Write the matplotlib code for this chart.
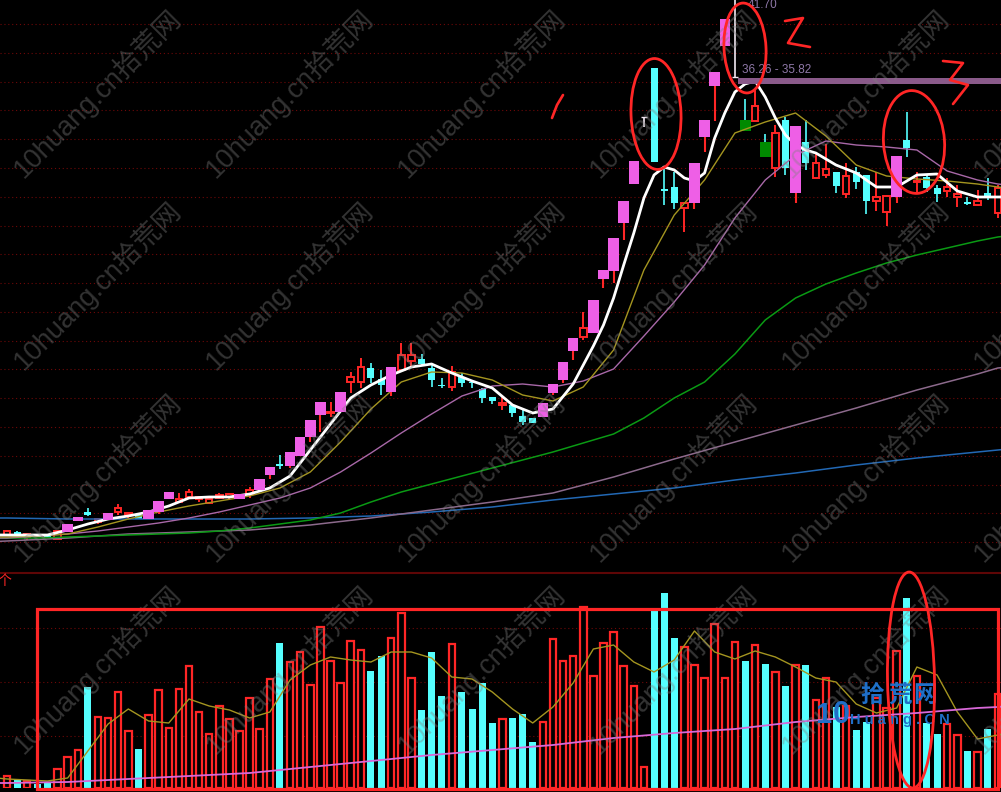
import numpy as np
import matplotlib
matplotlib.use('Agg')
import matplotlib.pyplot as plt
from matplotlib.patches import Ellipse, Rectangle

plt.rcParams['font.family'] = ['Liberation Sans', 'Noto Sans CJK SC']

# m = magenta up, r = hollow red up, c = cyan down, g = green down, w = white top bar
kinds = ['r','c','r','c','c','r','m','m','c','r',
         'm','r','r','c','m','m','m','r','r','r',
         'r','r','r','m','r','m','m','c','m','m',
         'm','m','r','m','r','r','c','c','m','r',
         'r','c','c','c','r','c','c','c','c','r',
         'c','c','c','m','m','m','m','r','m','m',
         'm','m','m','w','c','c','c','r','m','m',
         'm','m','w','g','r','g','r','c','m','c',
         'r','r','c','r','c','c','r','r','m','c',
         'r','c','c','r','r','c','r','c','r']

body_hi = [4.53,4.46,4.32,4.25,4.18,4.53,5.02,5.51,5.86,5.37,
           5.79,6.14,5.79,5.65,6.00,6.63,7.26,6.77,7.26,6.91,
           6.77,7.05,7.12,7.12,7.40,8.17,9.01,9.22,10.06,11.11,
           12.30,13.56,12.86,14.26,15.31,16.01,15.94,15.17,16.01,16.85,
           16.85,16.57,15.94,14.75,15.66,15.31,14.96,14.47,13.91,13.49,
           13.35,12.58,12.44,13.49,14.82,16.36,18.04,18.74,20.70,22.80,
           25.04,27.63,30.43,33.51,36.94,28.47,28.61,27.49,30.29,33.30,
           36.66,40.37,36.31,33.30,34.28,31.76,32.39,33.30,32.88,31.76,
           30.29,29.87,29.66,29.38,29.66,29.45,27.91,27.98,30.78,31.90,
           29.03,29.31,28.54,28.61,28.12,27.56,27.63,28.19,28.54]
body_lo = [4.25,4.32,4.11,4.11,4.04,3.97,4.46,5.23,5.65,5.16,
           5.30,5.86,5.65,5.37,5.37,5.86,6.77,6.56,6.91,6.77,
           6.49,6.84,6.91,6.77,7.12,7.40,8.45,9.08,9.08,9.78,
           11.11,12.65,12.79,12.86,14.96,14.96,15.24,14.75,14.26,15.80,
           16.43,16.22,15.10,14.68,14.61,14.89,14.89,13.84,13.63,13.35,
           12.79,12.16,12.09,12.51,14.19,15.10,17.13,18.11,18.39,22.17,
           22.73,26.09,28.82,33.44,30.36,28.33,27.49,27.14,27.49,32.11,
           35.68,38.48,36.24,32.53,33.23,30.71,29.94,29.94,28.19,30.29,
           29.24,29.45,28.68,28.12,28.96,27.63,27.63,26.86,27.91,31.34,
           28.96,28.54,28.12,28.33,27.91,27.42,27.35,27.84,26.79]
highs = [4.60,4.53,4.39,4.25,4.18,4.53,5.02,5.51,6.14,5.44,
         5.79,6.42,5.86,5.65,6.00,6.63,7.26,7.19,7.47,6.91,
         6.91,7.19,7.19,7.12,7.61,8.17,9.01,9.85,10.06,11.11,
         12.30,13.56,13.56,14.26,15.66,16.64,16.29,15.80,16.01,17.69,
         17.69,16.92,16.29,15.24,16.08,15.59,15.10,14.54,13.91,13.98,
         13.42,13.00,12.44,13.49,14.82,16.36,18.04,19.86,20.70,22.80,
         25.04,27.63,30.43,33.51,36.94,29.94,29.66,27.49,30.29,33.30,
         36.66,40.37,41.70,34.77,35.40,32.32,32.95,33.51,32.88,33.30,
         30.99,31.62,29.66,30.29,30.01,29.45,29.66,28.05,30.78,33.86,
         29.66,29.45,28.75,29.24,28.75,27.91,28.40,29.24,28.75]
lows = [4.18,4.25,3.90,4.11,4.04,3.97,4.46,5.23,5.58,5.02,
        5.30,5.65,5.44,5.37,5.37,5.72,6.77,6.49,6.84,6.56,
        6.42,6.77,6.77,6.77,6.84,7.40,8.17,8.87,8.94,9.78,
        10.76,11.46,12.51,12.86,14.19,14.54,14.89,14.05,13.98,15.80,
        15.94,16.08,14.61,14.54,14.33,14.61,14.54,13.49,13.42,13.00,
        12.51,11.95,12.09,12.51,14.05,14.89,16.50,17.90,18.39,21.54,
        21.89,24.90,28.82,32.81,30.36,27.35,27.07,25.46,27.07,31.06,
        33.23,38.48,36.24,32.53,33.23,30.71,29.31,29.45,27.49,29.80,
        29.24,29.24,28.19,27.84,28.47,26.72,26.93,25.88,27.49,30.71,
        28.19,28.26,27.56,27.91,27.21,27.35,27.28,27.70,26.44]

volumes = [12,9,7,4,5,19,31,38,101,71,
           70,96,57,39,73,98,60,99,122,76,
           54,82,69,57,90,59,109,145,126,136,
           103,161,127,105,147,138,117,132,150,175,
           110,78,136,92,144,96,79,105,65,69,
           70,74,46,66,149,127,132,181,112,145,
           156,122,102,21,179,195,150,141,123,110,
           164,110,146,127,143,124,116,102,123,123,
           88,110,81,82,58,66,90,80,137,190,
           112,65,54,64,53,37,36,59,94]

# moving averages, read every few days, first and last reach past the frame
ma5_days = [-1] + list(range(0, 57, 2)) + list(range(57, 81)) + list(range(82, 99, 2)) + [99]
ma5 = [4.25,4.25,4.25,4.25,4.60,5.02,5.37,5.58,5.86,6.28,6.84,
       6.91,6.91,7.12,7.54,8.38,10.20,12.02,13.84,14.75,15.45,
       16.01,16.22,15.59,15.03,14.54,13.35,12.79,13.07,14.82,
       16.15,17.48,18.95,20.84,23.15,25.39,27.84,29.45,30.01,29.80,
       29.24,29.03,29.59,32.04,33.79,35.26,35.82,36.03,34.91,33.44,
       32.25,31.55,31.20,30.99,
       30.15,29.59,28.61,28.61,29.45,29.52,28.33,27.91,27.91,27.91]
mid_days = [-1] + list(range(0, 97, 3)) + [98, 99]
ma10 = [4.11,4.11,4.18,4.32,4.81,5.37,5.86,6.28,6.63,6.98,7.54,
        8.66,10.76,13.07,14.96,15.66,15.59,15.10,14.05,13.63,14.61,
        17.20,22.80,26.65,29.10,32.39,33.16,33.79,32.18,30.15,29.38,
        29.17,29.03,28.82,28.61,28.54]
ma20 = [4.04,4.04,4.18,4.32,4.53,4.81,5.09,5.44,5.86,6.35,6.84,
        7.54,8.66,9.99,11.39,12.72,13.98,14.68,14.82,14.61,15.03,
        15.87,18.18,20.56,23.15,26.44,29.10,30.85,31.83,31.55,31.41,
        31.20,29.73,29.10,28.82,28.75]
ma60 = [4.04,4.04,4.04,4.11,4.18,4.25,4.32,4.39,4.53,4.74,5.02,
        5.30,5.79,6.56,7.26,7.82,8.38,8.94,9.50,10.06,10.69,
        11.32,12.44,13.84,14.96,16.92,19.30,20.84,21.82,22.59,23.29,
        23.85,24.34,24.83,25.11,25.20]
slow_days = [-1] + list(range(0, 97, 6)) + [98, 99]
ma120 = [3.80,3.83,4.04,4.32,4.46,4.60,4.95,5.44,6.00,6.56,7.19,
         8.31,9.57,10.76,11.95,13.14,14.40,15.52,15.94,16.01]
ma250 = [5.44,5.44,5.37,5.37,5.37,5.37,5.44,5.58,5.86,6.21,6.70,
         7.12,7.54,8.10,8.59,9.15,9.64,10.06,10.20,10.27]
vol_days = [-1] + list(range(0, 99, 2)) + [99]
vol_ma5 = [10,9,8,7,10,37,64,79,67,65,89,
           82,78,70,76,108,123,131,128,126,136,
           136,130,111,109,96,79,65,81,105,139,
           143,126,116,128,157,136,129,137,131,121,
           110,106,84,75,80,121,113,76,49,53,55]
vol_ma60 = [5,5,6,9,12,15,21,27,33,38,43,50,55,59,66,71,75,80,81,82]

high_label = '41.70'
band_label = '36.26 - 35.82'
band_hi, band_lo = 36.26, 35.82
watermark = '10huang.cn拾荒网'

RED = '#ff2626'
CYAN = '#55ffff'
MAGENTA = '#ee5fe6'
GREEN = '#008a00'
GRID = '#6e0808'

fig = plt.figure(figsize=(10.01, 7.92), dpi=100, facecolor='black')
H = 792.0
ax = fig.add_axes([0, (H - 572) / H, 1, 572 / H], facecolor='black')
vax = fig.add_axes([0, (H - 788) / H, 1, 215 / H], facecolor='none')
top = fig.add_axes([0, 0, 1, 1], facecolor='none')
top.set_xlim(0, 1001)
top.set_ylim(792, 0)
top.axis('off')

for a in (ax, vax):
    a.set_xlim(-0.692, 98.32)
    a.set_xticks([])
    a.tick_params(left=False, labelleft=False)
    for s in a.spines.values():
        s.set_visible(False)
ax.set_ylim(1.66, 41.70)
vax.set_ylim(0, 215)

ax.set_yticks(40.02 - 2.015 * np.arange(19))
ax.grid(axis='y', color=GRID, lw=0.8, ls=(0, (1, 2.5)))
ax.set_axisbelow(True)
vax.set_yticks([52, 106, 160])
vax.grid(axis='y', color=GRID, lw=0.8, ls=(0, (1, 2.5)))
vax.set_axisbelow(True)

# candles
for i, k in enumerate(kinds):
    if k == 'm':
        ax.vlines(i, lows[i], highs[i], color=RED, lw=1.5, zorder=3.5)
        ax.bar(i, body_hi[i] - body_lo[i], 10.5 / 10.11, body_lo[i], color=MAGENTA, zorder=4)
    elif k == 'r':
        ax.vlines(i, lows[i], highs[i], color=RED, lw=1.4, zorder=2)
        ax.bar(i, body_hi[i] - body_lo[i], 6.5 / 10.11, body_lo[i], facecolor='black',
               edgecolor=RED, lw=1.4, zorder=2.5)
    elif k == 'c':
        ax.vlines(i, lows[i], highs[i], color=CYAN, lw=1.2, zorder=2)
        ax.bar(i, body_hi[i] - body_lo[i], 7 / 10.11, body_lo[i], color=CYAN, zorder=2.5)
    elif k == 'g':
        ax.vlines(i, lows[i], highs[i], color=CYAN, lw=1.2, zorder=2)
        ax.bar(i, body_hi[i] - body_lo[i], 11 / 10.11, body_lo[i], color=GREEN, zorder=2.5)
    else:
        ax.vlines(i, lows[i], highs[i], color='#f2e8f2', lw=1.2, zorder=2)
        ax.hlines(body_hi[i], i - 0.3, i + 0.3, color='#f2e8f2', lw=1.0, zorder=2)

# moving averages
ax.plot(slow_days, ma250, color='#2268b4', lw=1.1, zorder=3)
ax.plot(slow_days, ma120, color='#8c6a8c', lw=1.1, zorder=3)
ax.plot(mid_days, ma60, color='#0a9a14', lw=1.1, zorder=3)
ax.plot(mid_days, ma20, color='#a868a8', lw=1.0, zorder=3)
ax.plot(mid_days, ma10, color='#a49520', lw=1.0, zorder=3)
ax.plot(ma5_days, ma5, color='white', lw=2.0, zorder=3.2)

# the selected price band and its labels
ax.fill_between([72.3, 98.32], band_lo, band_hi, color='#8a5a8a', lw=0, zorder=3.3)
ax.text(72.7, 36.8, band_label, color='#8f78a8', fontsize=8.5, va='center', zorder=5)
ax.text(73.3, 41.35, high_label, color='#8f78a8', fontsize=8.5, va='center', zorder=5)

# volume panel
for i, k in enumerate(kinds):
    if k in ('c', 'g'):
        vax.bar(i, volumes[i], 7 / 10.11, color=CYAN, zorder=2)
    else:
        vax.bar(i, volumes[i], 6.5 / 10.11, facecolor='black', edgecolor=RED, lw=1.6, zorder=2)
vax.plot(vol_days, vol_ma5, color='#a49520', lw=1.0, zorder=3)
vax.plot(slow_days, vol_ma60, color='#d868d8', lw=1.3, zorder=3)
top.hlines(572.5, 0, 1001, color='#5e0606', lw=1.5, zorder=1)
top.text(-2, 581, '个', color=RED, fontsize=10, va='center', zorder=1)

# watermark over everything
for row in range(4):
    for col in range(6):
        top.text(97 + 192 * col, 93 + 192 * row, watermark, color='#808080', alpha=0.4,
                 fontsize=19.7, rotation=45, ha='center', va='center', zorder=2,
                 rotation_mode='anchor', clip_on=True)

# logo
BLUE = '#1f6fc8'
for cx, ch in zip([872, 900, 925], '拾荒网'):
    top.text(cx, 695, ch, color=BLUE, fontsize=17, fontweight='bold', ha='center', va='center', zorder=3)
top.text(823, 715, '1', color=BLUE, fontsize=21, fontweight='bold', ha='center', va='center', zorder=3)
top.text(841, 715, '0', color=BLUE, fontsize=22, fontweight='bold', ha='center', va='center', zorder=3)
top.text(900, 720, 'H u a n g . C N', color=BLUE, fontsize=10.5, fontweight='bold',
         ha='center', va='center', zorder=3)

# hand drawn red marks
for c, w, h, ang in [((656, 114), 50, 111, -2), ((745, 48), 42, 90, -3),
                     ((914, 142), 61, 103, -4), ((911, 680), 47, 216, -1)]:
    top.add_patch(Ellipse(c, w, h, angle=ang, fill=False, ec=RED, lw=2.0, zorder=4))
top.add_patch(Rectangle((36.5, 609), 961.5, 180, fill=False, ec=RED, lw=2.3, zorder=4))
for stroke in [([563, 557, 552], [95, 105, 118]),
               ([785, 803, 788, 810], [21, 18, 43, 47]),
               ([943, 963, 950, 968, 953], [61, 63, 80, 85, 104])]:
    top.plot(stroke[0], stroke[1], color=RED, lw=1.9, zorder=4, solid_capstyle='round')

fig.savefig('out.png', dpi=100, facecolor='black')
